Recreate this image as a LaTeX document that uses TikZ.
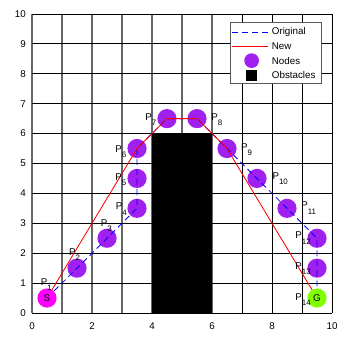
\documentclass[tikz,border=0pt]{standalone}
\usepackage{fontspec}
\setmainfont{Liberation Sans}
\definecolor{nodepurple}{RGB}{160,32,240}
\definecolor{smag}{RGB}{255,0,255}
\definecolor{glime}{RGB}{128,255,0}
\newcommand{\psub}[1]{P\raisebox{-5pt}{\fontsize{7.5}{8}\selectfont #1}}
\begin{document}
\begin{tikzpicture}[x=1cm,y=0.9967cm,
  font=\fontsize{9.3}{11}\selectfont,
  gridblack/.style={black, line width=0.8pt},
  gridgray/.style={black!60, line width=1.4pt},
  pnode/.style={circle, fill=nodepurple, minimum size=0.64cm, inner sep=0pt},
  snode/.style={circle, fill=smag, minimum size=0.64cm, inner sep=0pt},
  gnode/.style={circle, fill=glime, minimum size=0.64cm, inner sep=0pt},
  origline/.style={blue, line width=0.8pt, dash pattern=on 5.7pt off 3.8pt},
  newline/.style={red, line width=0.8pt},
  txt/.style={inner sep=0pt},
  lbl/.style={inner sep=0pt, anchor=base west},
  legendbox/.style={draw=black!65, fill=white, line width=0.8pt, inner sep=0pt}
]
\useasboundingbox (-1.067,-0.836) rectangle (10.3,10.468);
\fill[white] (-1.067,-0.836) rectangle (10.3,10.468);
% grid
\foreach \x in {0,...,6} \draw[gridgray] (\x,0) -- (\x,10);
\foreach \x in {7,...,10} \draw[gridblack] (\x,0) -- (\x,10);
\foreach \y in {0,...,10} \draw[gridblack] (0,\y) -- (10,\y);
% tick labels
\foreach \x in {0,2,...,10} \node[txt] (xt\x) at (\x,-0.43) {\x};
\foreach \y in {0,...,10} \node[txt, anchor=east] (yt\y) at (-0.2,\y) {\y};
% obstacle
\fill[black] (4,0) rectangle (6,6);
% path points
\coordinate (S) at (0.5,0.5);
\coordinate (G) at (9.5,0.5);
\node[pnode] (n2) at (1.5,1.5) {};
\node[pnode] (n3) at (2.5,2.5) {};
\node[pnode] (n4) at (3.5,3.5) {};
\node[pnode] (n5) at (3.5,4.5) {};
\node[pnode] (n6) at (3.5,5.5) {};
\node[pnode] (n7) at (4.5,6.5) {};
\node[pnode] (n8) at (5.5,6.5) {};
\node[pnode] (n9) at (6.5,5.5) {};
\node[pnode] (n10) at (7.5,4.5) {};
\node[pnode] (n11) at (8.5,3.5) {};
\node[pnode] (n12) at (9.5,2.5) {};
\node[pnode] (n13) at (9.5,1.5) {};
% original path
\draw[origline] (S) -- (n2.center) -- (n3.center) -- (n4.center) -- (n5.center) -- (n6.center) -- (n7.center) -- (n8.center) -- (n9.center) -- (n10.center) -- (n11.center) -- (n12.center) -- (n13.center) -- (G);
% new path
\draw[newline] (S) -- (n6.center) -- (n7.center) -- (n8.center) -- (n9.center) -- (G);
% start / goal
\node[snode] (Snode) at (S) {S};
\node[gnode] (Gnode) at (G) {G};
% labels
\node[lbl] (l1) at (0.29,0.93) {\psub{1}};
\node[lbl] (l2) at (1.23,1.93) {\psub{2}};
\node[lbl] (l3) at (2.29,2.90) {\psub{3}};
\node[lbl] (l4) at (2.79,3.45) {\psub{4}};
\node[lbl] (l5) at (2.77,4.44) {\psub{5}};
\node[lbl] (l6) at (2.77,5.38) {\psub{6}};
\node[lbl] (l7) at (3.77,6.45) {\psub{7}};
\node[lbl] (l8) at (5.97,6.45) {\psub{8}};
\node[lbl] (l9) at (6.96,5.44) {\psub{9}};
\node[lbl] (l10) at (8.01,4.46) {\psub{10}};
\node[lbl] (l11) at (8.97,3.48) {\psub{11}};
\node[lbl] (l12) at (8.77,2.48) {\psub{12}};
\node[lbl] (l13) at (8.77,1.45) {\psub{13}};
\node[lbl] (l14) at (8.77,0.43) {\psub{14}};
% legend
\node[legendbox, minimum width=3.06cm, minimum height=2.02cm] (legend) at (8.13,8.705) {};
\coordinate (lo1) at (6.66,9.40);
\coordinate (lo2) at (7.88,9.40);
\draw[origline] (lo1) -- (lo2);
\node[txt, anchor=west] (tOrig) at (7.99,9.40) {Original};
\coordinate (ln1) at (6.66,8.92);
\coordinate (ln2) at (7.88,8.92);
\draw[newline] (ln1) -- (ln2);
\node[txt, anchor=west] (tNew) at (7.99,8.92) {New};
\node[circle, fill=nodepurple, minimum size=0.49cm, inner sep=0pt] (legN) at (7.32,8.44) {};
\node[txt, anchor=west] (tNodes) at (7.99,8.44) {Nodes};
\node[fill=black, minimum size=0.37cm, inner sep=0pt] (legO) at (7.32,7.95) {};
\node[txt, anchor=west] (tObs) at (7.99,7.95) {Obstacles};
\end{tikzpicture}
\end{document}
